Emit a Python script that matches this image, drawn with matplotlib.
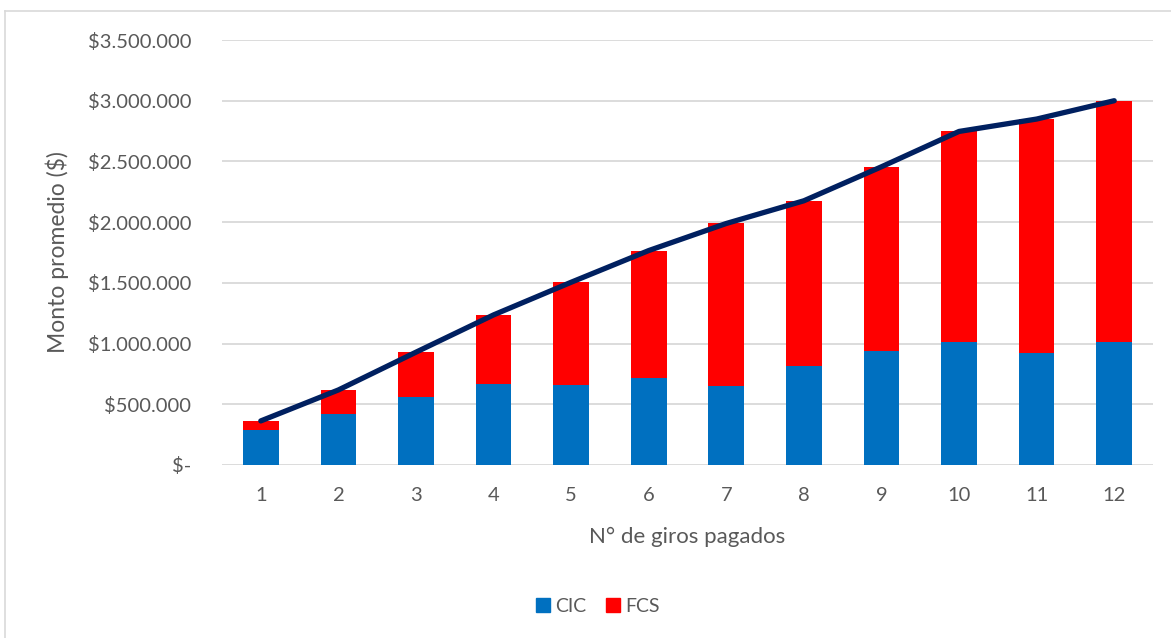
import matplotlib
matplotlib.use("Agg")
import matplotlib.pyplot as plt
from matplotlib.lines import Line2D
from matplotlib.ticker import FuncFormatter, MultipleLocator
from matplotlib.patches import Patch

plt.rcParams['font.family'] = ['Lato', 'DejaVu Sans']

# datos
giros = ['1', '2', '3', '4', '5', '6', '7', '8', '9', '10', '11', '12']
cic = [288000, 418000, 558000, 670000, 659000, 720000, 648000, 816000, 940000, 1014000, 920000, 1011000]
fcs = [75000, 200000, 371000, 566000, 846000, 1046000, 1341000, 1360000, 1516000, 1733000, 1929000, 1989000]
total = [a + b for a, b in zip(cic, fcs)]

AZUL = '#0070C0'
ROJO = '#FF0000'
NAVY = '#002060'
GRIS = '#595959'

W, H = 1171, 638
fig = plt.figure(figsize=(W / 100, H / 100), dpi=100)
ax = fig.add_axes([222 / W, 1 - 465 / H, (1153 - 222) / W, (465 - 40) / H])

x = list(range(len(giros)))
ax.bar(x, cic, width=0.46, color=AZUL, zorder=2)
ax.bar(x, fcs, width=0.46, bottom=cic, color=ROJO, zorder=2)
ax.plot(x, total, color=NAVY, linewidth=3.8, solid_capstyle='round', zorder=3)

ax.set_xlim(-0.5, len(giros) - 0.5)
ax.set_ylim(0, 3500000)
ax.yaxis.set_major_locator(MultipleLocator(500000))


def fmt_peso(v, pos):
    if v == 0:
        return '$-'
    return '$' + f'{int(v):,}'.replace(',', '.')


ax.yaxis.set_major_formatter(FuncFormatter(fmt_peso))
ax.set_xticks(x)
ax.set_xticklabels(giros)
ax.grid(axis='y', color='#D9D9D9', linewidth=1.3, zorder=0)
ax.set_axisbelow(True)
for s in ax.spines.values():
    s.set_visible(False)
ax.tick_params(axis='both', length=0, labelsize=14.5, labelcolor=GRIS)
ax.tick_params(axis='y', pad=22)
ax.tick_params(axis='x', pad=16)

ax.set_ylabel('Monto promedio ($)', fontsize=16.5, color=GRIS)
ax.yaxis.set_label_coords((57 - 222) / (1153 - 222), 0.5)
ax.set_xlabel('N° de giros pagados', fontsize=16, color=GRIS)
ax.xaxis.set_label_coords(0.5, -(537 - 465) / (465 - 40))
ax.xaxis.label.set_va('center')
ax.yaxis.label.set_va('center')

handles = [Patch(color=AZUL, label='CIC'), Patch(color=ROJO, label='FCS')]
fig.legend(handles=handles, loc='center', bbox_to_anchor=(598 / W, 1 - 606 / H),
           ncol=2, frameon=False, fontsize=14, labelcolor=GRIS,
           handlelength=0.7, handleheight=0.75, handletextpad=0.3, columnspacing=1.0)

# borde del area del grafico
fig.add_artist(Line2D([5 / W, 5 / W], [0, 1 - 11 / H], color='#D9D9D9', linewidth=1.2))
fig.add_artist(Line2D([5 / W, 1], [1 - 11 / H, 1 - 11 / H], color='#D9D9D9', linewidth=1.2))

fig.savefig('out.png', dpi=100)
